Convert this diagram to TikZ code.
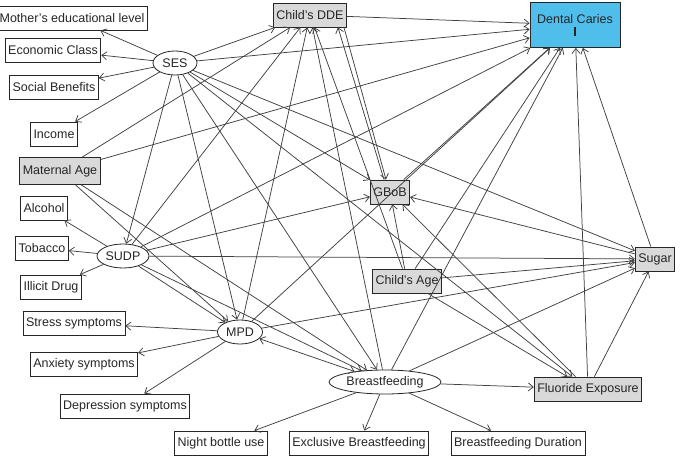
\documentclass[tikz,border=0pt]{standalone}
\usepackage{fontspec}
\setmainfont{Liberation Sans}
\usetikzlibrary{shapes.geometric,arrows.meta}
\definecolor{dcblue}{RGB}{80,190,235}
\begin{document}
\begin{tikzpicture}[x=1pt,y=-1pt,
  every node/.style={font=\fontsize{12.5}{14}\selectfont,text=black!85},
  box/.style={draw=black!85,line width=0.8pt,rectangle,fill=white,inner sep=3pt,minimum height=24pt},
  gbox/.style={box,fill=black!15},
  ell/.style={draw=black!85,line width=0.8pt,ellipse,fill=white,inner sep=1pt,minimum height=24pt},
  a/.style={->,draw=black!75,line width=0.75pt,>={Straight Barb[length=5pt,width=8pt]}}]
\useasboundingbox (0,0) rectangle (685,462);
\node[box] (med) at (72,18) {Mother's educational level};
\node[box] (eco) at (53,50) {Economic Class};
\node[box] (soc) at (54,87) {Social Benefits};
\node[box] (inc) at (54,134) {Income};
\node[gbox,minimum height=27pt] (mat) at (60,171) {Maternal Age};
\node[box] (alc) at (44,208) {Alcohol};
\node[box] (tob) at (42,248) {Tobacco};
\node[box] (ill) at (51,287) {Illicit Drug};
\node[box] (str) at (74,323) {Stress symptoms};
\node[box] (anx) at (84,364) {Anxiety symptoms};
\node[box] (dep) at (125,406) {Depression symptoms};
\node[box] (nig) at (221,443) {Night bottle use};
\node[box] (exc) at (359,443) {Exclusive Breastfeeding};
\node[box] (dur) at (518,443) {Breastfeeding Duration};
\node[gbox] (dde) at (310,15) {Child's DDE};
\node[draw=black!85,line width=0.8pt,fill=dcblue,minimum width=90pt,minimum height=45pt,align=center] (dc) at (575,25) {Dental Caries\\[-2pt]\rule{2.5pt}{9pt}};
\node[gbox] (gbob) at (390,192) {GBoB};
\node[gbox] (age) at (407,281) {Child's Age};
\node[gbox] (sug) at (655,259) {Sugar};
\node[gbox] (flu) at (588,389) {Fluoride Exposure};
\node[ell,minimum width=44pt] (ses) at (175,63) {SES};
\node[ell,minimum width=50pt] (sudp) at (123,256) {SUDP};
\node[ell,minimum width=45pt] (mpd) at (240,332) {MPD};
\node[ell,minimum width=95pt] (bf) at (385,382) {Breastfeeding};
% SES
\foreach \t in {med,eco,soc,inc,dde,dc,gbob,sug,flu,sudp,mpd,bf} \draw[a] (ses) -- (\t);
% Maternal Age
\foreach \t in {dde,dc,mpd,bf} \draw[a] (mat) -- (\t);
% SUDP
\foreach \t in {alc,tob,ill,dde,gbob,sug,dc,mpd,bf} \draw[a] (sudp) -- (\t);
% MPD
\foreach \t in {str,anx,dep,dde,dc,sug} \draw[a] (mpd) -- (\t);
\draw[a,<->] (mpd) -- (bf);
% Breastfeeding
\foreach \t in {nig,exc,dur,flu,sug,dc,dde} \draw[a] (bf) -- (\t);
% Child's Age
\foreach \t in {gbob,dde,dc,sug,flu} \draw[a] (age) -- (\t);
% others
\draw[a] (dde) -- (dc);
\draw[a] ([xshift=-3pt]dde.south east) -- ([xshift=-4pt]gbob.north);
\draw[a] ([xshift=-6pt]gbob.north) -- ([xshift=-9pt]dde.south east);
\draw[a] (gbob) -- (dc);
\draw[a] (sug) -- (dc);
\draw[a] (sug) -- (gbob);
\draw[a] (flu) -- (dc);
\draw[a] (flu) -- (sug);
\draw[a] (flu) -- (gbob);
\end{tikzpicture}
\end{document}
